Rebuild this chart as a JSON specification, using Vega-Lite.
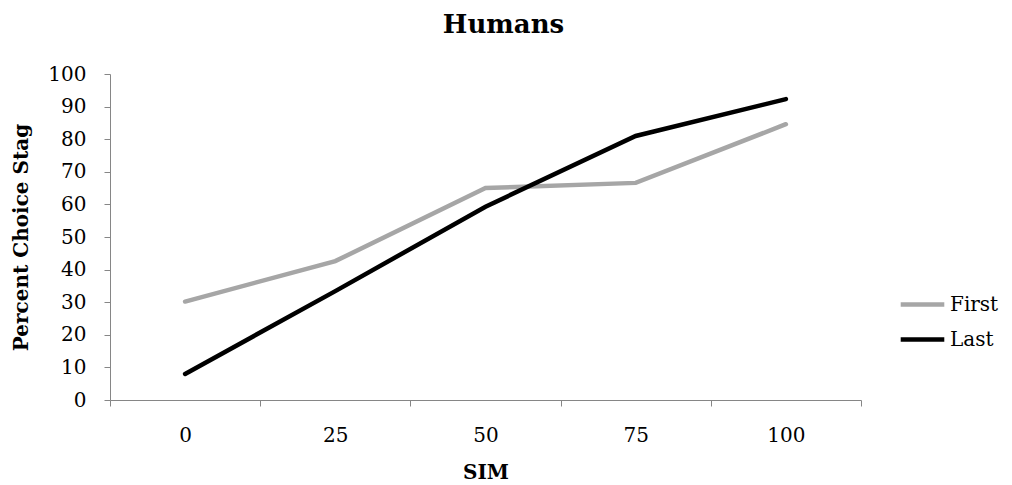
{
  "$schema": "https://vega.github.io/schema/vega-lite/v6.json",
  "width": 751,
  "height": 326,
  "autosize": {"type": "none"},
  "padding": {"left": 110, "top": 74, "right": 151, "bottom": 85},
  "background": "white",
  "title": {
    "text": "Humans",
    "font": "DejaVu Serif",
    "fontSize": 26,
    "fontWeight": "bold",
    "color": "black",
    "offset": 26,
    "dx": 18
  },
  "config": {
    "view": {"stroke": null},
    "axis": {
      "labelFont": "DejaVu Serif",
      "labelFontSize": 20,
      "labelColor": "black",
      "titleFont": "DejaVu Serif",
      "titleFontSize": 20,
      "titleFontWeight": "bold",
      "titleColor": "black",
      "domainColor": "#868686",
      "tickColor": "#868686",
      "grid": false
    },
    "legend": {
      "labelFont": "DejaVu Serif",
      "labelFontSize": 20,
      "labelColor": "black"
    }
  },
  "data": {
    "values": [
      {"SIM": 0, "Series": "First", "Percent": 30.2},
      {"SIM": 25, "Series": "First", "Percent": 42.6},
      {"SIM": 50, "Series": "First", "Percent": 65.0},
      {"SIM": 75, "Series": "First", "Percent": 66.6},
      {"SIM": 100, "Series": "First", "Percent": 84.6},
      {"SIM": 0, "Series": "Last", "Percent": 8.0},
      {"SIM": 25, "Series": "Last", "Percent": 33.4},
      {"SIM": 50, "Series": "Last", "Percent": 59.3},
      {"SIM": 75, "Series": "Last", "Percent": 81.0},
      {"SIM": 100, "Series": "Last", "Percent": 92.3}
    ]
  },
  "mark": {"type": "line", "strokeWidth": 4.5, "strokeCap": "round", "strokeJoin": "miter"},
  "encoding": {
    "x": {
      "field": "SIM",
      "type": "quantitative",
      "title": "SIM",
      "scale": {"domain": [-12.5, 112.5], "nice": false, "zero": false},
      "axis": {
        "values": [-12.5, 0, 12.5, 25, 37.5, 50, 62.5, 75, 87.5, 100, 112.5],
        "labelExpr": "datum.value % 25 === 0 ? datum.label : ''",
        "labelOverlap": false,
        "labelFlush": false,
        "tickSize": 6,
        "tickOpacity": {"condition": {"test": "datum.value % 25 === 0", "value": 0}, "value": 1},
        "labelPadding": 19,
        "titlePadding": 17
      }
    },
    "y": {
      "field": "Percent",
      "type": "quantitative",
      "title": "Percent Choice Stag",
      "scale": {"domain": [0, 100], "nice": false},
      "axis": {
        "values": [0, 10, 20, 30, 40, 50, 60, 70, 80, 90, 100],
        "tickSize": 6,
        "labelPadding": 18,
        "titlePadding": 16
      }
    },
    "color": {
      "field": "Series",
      "type": "nominal",
      "title": null,
      "scale": {"domain": ["First", "Last"], "range": ["#a6a6a6", "#000000"]},
      "legend": {
        "orient": "none",
        "legendX": 788,
        "legendY": 206,
        "symbolType": "stroke",
        "symbolSize": 1900,
        "symbolStrokeWidth": 4.5,
        "labelOffset": 3,
        "rowPadding": 0
      }
    }
  }
}
